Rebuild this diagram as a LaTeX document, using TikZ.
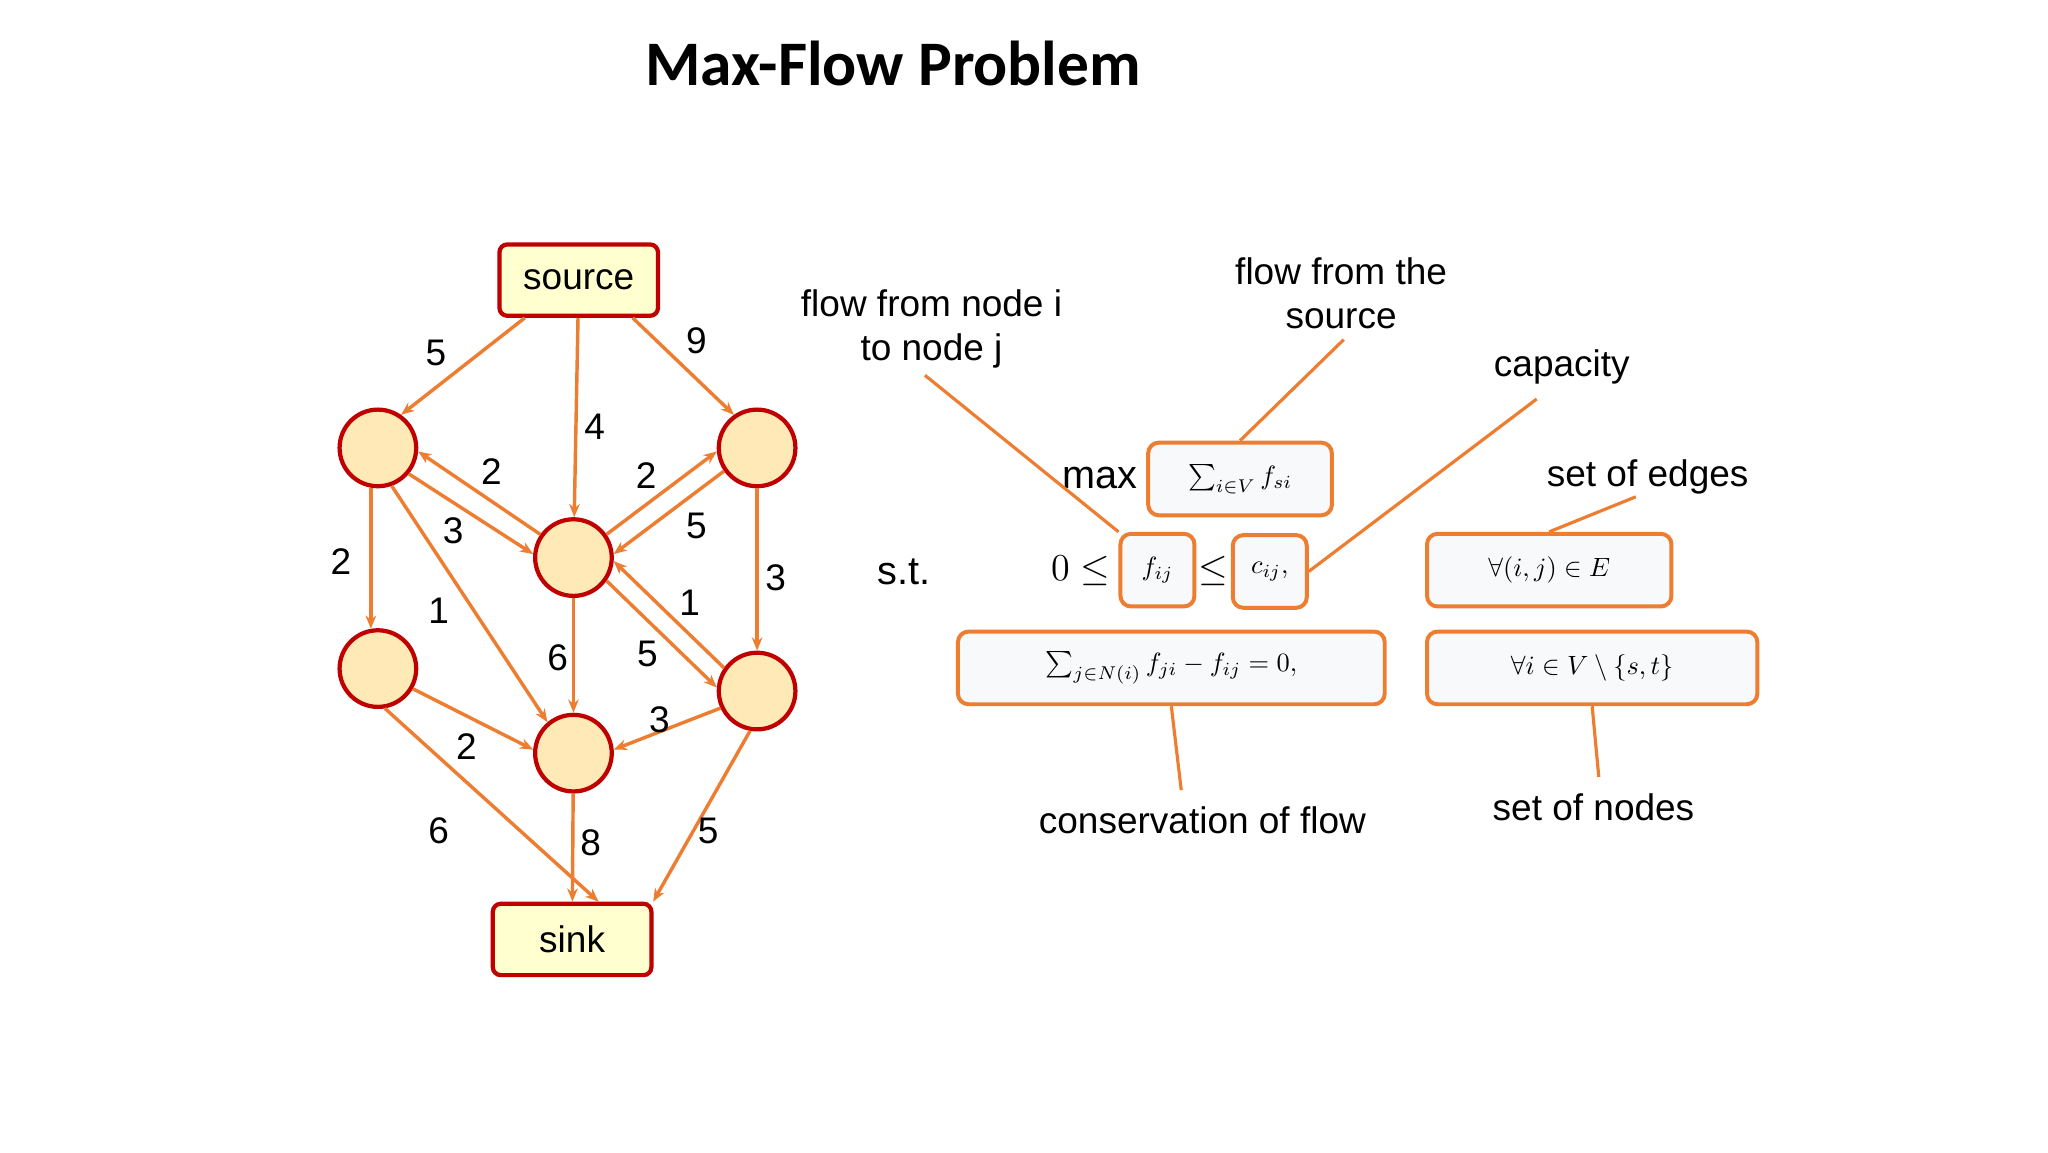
\documentclass[tikz,border=0pt]{standalone}
\usepackage{fontspec}
\setmainfont{Liberation Sans}
\newfontfamily\titlefont{Carlito}
\usetikzlibrary{arrows.meta}
\definecolor{edgeor}{RGB}{237,125,49}
\definecolor{noder}{RGB}{192,0,0}
\definecolor{nodefill}{RGB}{255,234,183}
\definecolor{boxfill}{RGB}{255,255,208}
\definecolor{mathfill}{RGB}{248,249,250}
\begin{document}
\begin{tikzpicture}[x=0.5pt,y=-0.5pt,
  vert/.style={circle,draw=noder,line width=1.6pt,fill=nodefill,minimum size=29pt,inner sep=0pt},
  term/.style={rectangle,rounded corners=3pt,draw=noder,line width=1.6pt,fill=boxfill,
    minimum width=60pt,minimum height=27pt,font=\fontsize{14}{16}\selectfont},
  flow/.style={draw=edgeor,line width=1.3pt,-{Stealth[length=5pt,width=4pt]}},
  wt/.style={font=\fontsize{14}{16}\selectfont},
  mbox/.style={rectangle,rounded corners=4pt,draw=edgeor,line width=1.5pt,fill=mathfill,inner sep=0pt},
  call/.style={draw=edgeor,line width=1.2pt},
  lbl/.style={font=\fontsize{14}{16.5}\selectfont,align=center},
  mth/.style={font=\fontsize{15}{18}\selectfont}]
\useasboundingbox (0,0) rectangle (1550,872);
\node[font=\titlefont\bfseries\fontsize{24}{28}\selectfont] (title) at (676,48) {Max-Flow Problem};
% graph
\node[term] (src) at (438,212) {source};
\node[term] (snk) at (433,711) {sink};
\node[vert] (A) at (286,339) {};
\node[vert] (B) at (573,339) {};
\node[vert] (C) at (434,422) {};
\node[vert] (D) at (286,506) {};
\node[vert] (E) at (573,523) {};
\node[vert] (F) at (434,570) {};
\draw[flow] (src.-145) -- (A.55);
\draw[flow] (src) -- (C);
\draw[flow] (src.-35) -- (B.125);
\draw[flow] (C.145) -- (A.-5);
\draw[flow] (A.-40) -- (C.175);
\draw[flow] (C.35) -- (B.185);
\draw[flow] (B.-145) -- (C.5);
\draw[flow] (A.-100) -- (D.100);
\draw[flow] (A.-70) -- (F.130);
\draw[flow] (B) -- (E);
\draw[flow] (E.145) -- (C.-5);
\draw[flow] (C.-35) -- (E.175);
\draw[flow] (C) -- (F);
\draw[flow] (D.-30) -- (F.175);
\draw[flow] (E.-155) -- (F.5);
\draw[flow] (D.-80) -- (snk.55);
\draw[flow] (F) -- (snk);
\draw[flow] (E.-100) -- (snk.25);
\node[wt] (w1) at (330,267) {5};
\node[wt] (w2) at (450,323) {4};
\node[wt] (w3) at (527,258) {9};
\node[wt] (w4) at (372,357) {2};
\node[wt] (w5) at (343,402) {3};
\node[wt] (w6) at (489,360) {2};
\node[wt] (w7) at (527,398) {5};
\node[wt] (w8) at (258,425) {2};
\node[wt] (w9) at (332,462) {1};
\node[wt] (w10) at (587,437) {3};
\node[wt] (w11) at (522,456) {1};
\node[wt] (w12) at (490,495) {5};
\node[wt] (w13) at (422,498) {6};
\node[wt] (w14) at (353,565) {2};
\node[wt] (w15) at (499,545) {3};
\node[wt] (w16) at (332,629) {6};
\node[wt] (w17) at (447,638) {8};
\node[wt] (w18) at (536,629) {5};
% formulation
\node[mth,anchor=east] (max) at (868,362) {$\max$};
\node[mbox,minimum width=69.5pt,minimum height=27.5pt] (obj) at (938.5,362.5) {$\sum_{i\in V} f_{si}$};
\node[mth] (st) at (684,433) {s.t.};
\node[mth,anchor=east] (zero) at (847,432) {$0\leq$};
\node[mbox,minimum width=28pt,minimum height=27.5pt] (fij) at (876,431.5) {$f_{ij}$};
\node[mth] (le) at (918,432) {$\leq$};
\node[mbox,minimum width=28pt,minimum height=27.5pt] (cij) at (961,432.5) {$c_{ij},$};
\node[mbox,minimum width=92.5pt,minimum height=27.5pt] (alle) at (1172.5,431.5) {$\forall(i,j)\in E$};
\node[mbox,minimum width=161.5pt,minimum height=27.5pt] (cons) at (886.5,505.5) {$\sum_{j\in N(i)} f_{ji}-f_{ij}=0,$};
\node[mbox,minimum width=125pt,minimum height=27.5pt] (allv) at (1205,505.5) {$\forall i\in V\setminus\{s,t\}$};
% callouts
\node[lbl] (l1) at (705,249) {flow from node i\\to node j};
\node[lbl] (l2) at (1015,222) {flow from the\\source};
\node[lbl] (l3) at (1182,278) {capacity};
\node[lbl] (l4) at (1247,361) {set of edges};
\node[lbl] (l5) at (910,621) {conservation of flow};
\node[lbl] (l6) at (1206,611) {set of nodes};
\coordinate (c1) at (700,284);
\coordinate (c2) at (1017,257);
\coordinate (c3) at (1163,302);
\coordinate (c4) at (1238,376);
\coordinate (c5) at (894,598);
\coordinate (c6) at (1210,588);
\draw[call] (c1) -- (fij.north west);
\draw[call] (c2) -- (obj.north);
\draw[call] (c3) -- (cij.east);
\draw[call] (c4) -- (alle.north);
\draw[call] (cons.south) -- (c5);
\draw[call] (allv.south) -- (c6);
\end{tikzpicture}
\end{document}
